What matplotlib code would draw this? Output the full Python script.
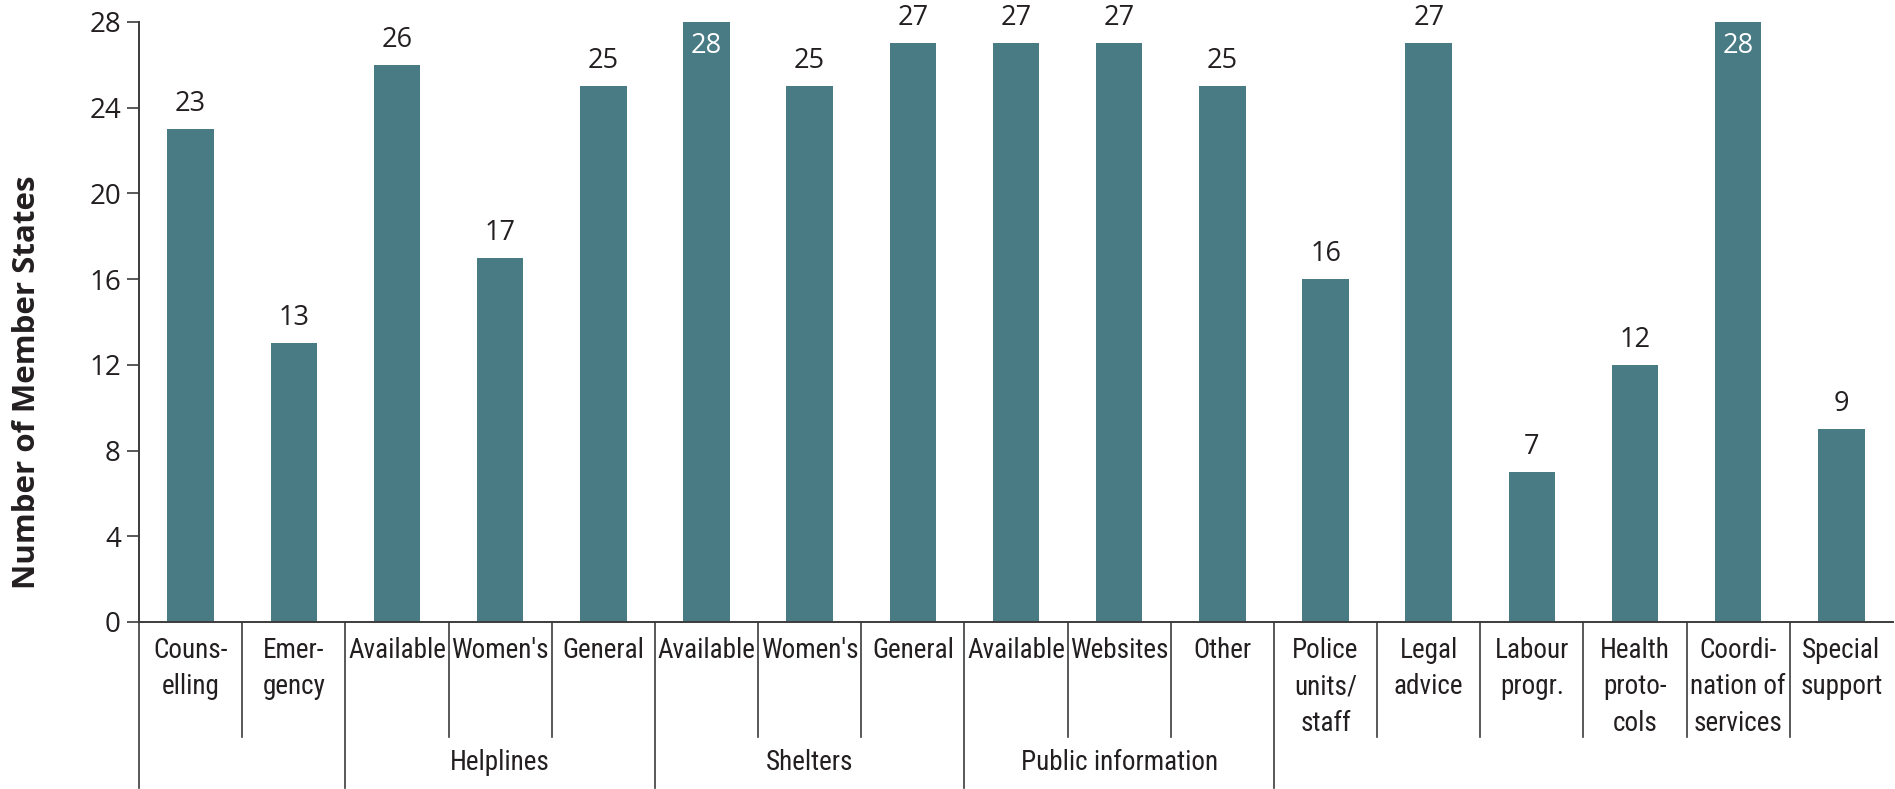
import matplotlib
matplotlib.use("Agg")
import matplotlib.pyplot as plt
from matplotlib import font_manager
from matplotlib.font_manager import FontProperties
from matplotlib.transforms import blended_transform_factory

# ---- data ----
categories = ["Couns-\nelling", "Emer-\ngency", "Available", "Women's", "General",
              "Available", "Women's", "General", "Available", "Websites", "Other",
              "Police\nunits/\nstaff", "Legal\nadvice", "Labour\nprogr.",
              "Health\nproto-\ncols", "Coordi-\nnation of\nservices", "Special\nsupport"]
values = [23, 13, 26, 17, 25, 28, 25, 27, 27, 27, 25, 16, 27, 7, 12, 28, 9]
groups = ["", "Helplines", "Shelters", "Public information"]
group_start = [0, 2, 5, 8]
group_end = [1, 4, 7, 10]
yticks = [0, 4, 8, 12, 16, 20, 24, 28]

BAR = "#497b84"
TXT = "#231f20"
LINE = "#3c3c3c"
NUMF = ["Open Sans", "DejaVu Sans"]

# find a narrow / condensed font if one is installed
narrow_fp = None
prefs = ["Roboto Condensed", "Liberation Sans Narrow", "Open Sans Condensed",
         "Noto Sans Condensed", "DejaVu Sans Condensed"]
cands = []
for f in font_manager.fontManager.ttflist:
    fn = f.fname.lower()
    if (("narrow" in fn or "condensed" in fn or f.stretch in ("condensed", "semi-condensed"))
            and f.style == "normal" and f.weight in (400, "normal", "regular")
            and "bold" not in fn and "italic" not in fn and "light" not in fn
            and "semi" not in fn):
        cands.append(f)
for p in prefs:
    for f in cands:
        if f.name == p or p.replace(" ", "").lower() in f.fname.lower().replace("-", "").replace("_", ""):
            narrow_fp = f.fname
            break
    if narrow_fp:
        break
if narrow_fp is None and cands:
    narrow_fp = cands[0].fname

if narrow_fp:
    LAB_SIZE = 19.5
    def labfp(size=LAB_SIZE):
        return FontProperties(fname=narrow_fp, size=size)
else:
    LAB_SIZE = 15.5
    def labfp(size=LAB_SIZE):
        return FontProperties(family=["Roboto", "DejaVu Sans"], size=size)

W, H = 1895, 789
fig = plt.figure(figsize=(W / 100, H / 100), dpi=100)
ax_l, ax_r, ax_b, ax_t = 139, 1893, 622, 22
ax = fig.add_axes([ax_l / W, (H - ax_b) / H, (ax_r - ax_l) / W, (ax_b - ax_t) / H])

x = list(range(len(values)))
ax.bar(x, values, width=0.45, color=BAR, zorder=2)
ax.set_xlim(-0.5, len(values) - 0.5)
ax.set_ylim(0, 28)

ax.set_yticks(yticks)
ax.set_yticklabels([str(t) for t in yticks], fontsize=20, color=TXT, family=NUMF)
ax.tick_params(axis="y", direction="out", length=9, width=1.2, color=LINE, pad=4)
ax.set_xticks([])
for s in ["top", "right"]:
    ax.spines[s].set_visible(False)
for s in ["left", "bottom"]:
    ax.spines[s].set_color(LINE)
    ax.spines[s].set_linewidth(1.4)

# value labels
for xi, v in zip(x, values):
    if v >= 28:
        ax.annotate(str(v), (xi, v), xytext=(0, -7), textcoords="offset points",
                    ha="center", va="top", fontsize=19.5, color="white", family=NUMF)
    else:
        ax.annotate(str(v), (xi, v), xytext=(0, 8), textcoords="offset points",
                    ha="center", va="bottom", fontsize=19.5, color=TXT, family=NUMF)

# category labels and separators
trans = blended_transform_factory(ax.transData, ax.transAxes)
axh = ax_b - ax_t
short_y = -(737 - ax_b) / axh
long_y = -(788 - ax_b) / axh
for xi, lab in zip(x, categories):
    ax.text(xi, -(637 - ax_b) / axh, lab, transform=trans, ha="center", va="top",
            fontproperties=labfp(), color=TXT, linespacing=1.45)

long_bounds = set()
for s, e in zip(group_start, group_end):
    long_bounds.add(s - 0.5)
    long_bounds.add(e + 0.5)
for b in [i - 0.5 for i in range(len(values))]:
    yb = long_y if b in long_bounds else short_y
    ax.plot([b, b], [0, yb], transform=trans, color=LINE, lw=1.2, clip_on=False)

for g, s, e in zip(groups, group_start, group_end):
    if g:
        ax.text((s + e) / 2, -(763 - ax_b) / axh, g, transform=trans, ha="center",
                va="center", fontproperties=labfp(), color=TXT)

fig.text(27 / W, (H - 382) / H, "Number of Member States", rotation=90, ha="center",
         va="center", fontsize=22.5, fontweight="bold", color=TXT, family=NUMF)

fig.savefig("out.png", dpi=100, facecolor="white")
